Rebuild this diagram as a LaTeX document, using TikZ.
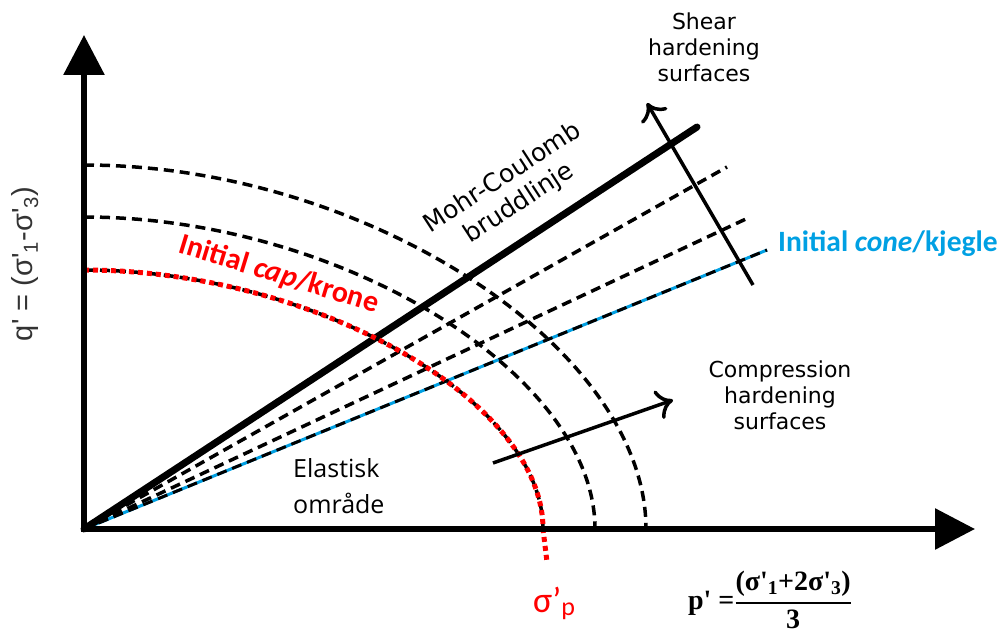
\documentclass[tikz,border=0pt]{standalone}
\usepackage{fontspec}
\usepackage{amsmath}
\usetikzlibrary{arrows.meta}

\newfontfamily\djv{DejaVu Sans}
\newfontfamily\carl{Carlito}
\newfontfamily\osans{Open Sans}
\newfontfamily\lser{Liberation Serif}
\newfontfamily\lsans{Liberation Sans}
\definecolor{coneblue}{RGB}{0,160,227}

\tikzset{
    axisline/.style={line width=6pt, line join=miter,
        {Triangle[length=40pt,width=40pt]}-{Triangle[length=40pt,width=40pt]}},
    surf/.style={line width=3.5pt, dash pattern=on 10pt off 6pt},
    capline/.style={red, line width=5pt, dash pattern=on 5pt off 4pt},
    harden/.style={line width=3.5pt, -{Computer Modern Rightarrow[length=16pt,width=30pt]}},
    lbl/.style={font=\djv\fontsize{22}{26}\selectfont, align=center, inner sep=0pt},
    boldlbl/.style={font=\carl\bfseries\fontsize{30}{32}\selectfont, inner sep=0pt},
}

\begin{document}
\begin{tikzpicture}[x=1pt,y=1pt]
\useasboundingbox (-84,-106) rectangle (922,529);

% Caps (hardening surfaces)
\foreach \a/\b in {459/259, 511/312, 562/364}
    \draw[surf] (0,\b) .. controls (0.5*\a,\b) and (\a,0.5*\b) .. (\a,0);

% Lines from origin
\coordinate (O) at (0,0);
\coordinate (mc) at (613,402);
\coordinate (d1) at (643,362);
\coordinate (d2) at (664,311);
\coordinate (cone) at (683,279);
\draw[coneblue, line width=3pt] (O) -- (cone);
\draw[surf, line width=3pt] (O) -- (cone);
\draw[surf] (O) -- (d1);
\draw[surf] (O) -- (d2);
\draw[line width=7pt, line cap=round] (O) -- (mc);

% Initial cap
\draw[capline] (0,259) .. controls (229.5,259) and (459,129.5) .. (459,0) -- (463,-33);

% Axes
\draw[axisline] (0,494) -- (O) -- (891,0);

% Hardening arrows
\coordinate (s0) at (669,244);
\coordinate (s1) at (563,426);
\draw[harden] (s0) -- (s1);
\coordinate (c0) at (409,66);
\coordinate (c1) at (589,129);
\draw[harden] (c0) -- (c1);

% Labels
\node[lbl] (shear) at (620,482) {Shear\\hardening\\surfaces};
\node[lbl] (comp) at (696,134) {Compression\\hardening\\surfaces};
\node[lbl, font=\djv\fontsize{25}{30}\selectfont, rotate=33] (mclbl) at (427,338) {Mohr-Coulomb\\bruddlinje};
\node[boldlbl, red, rotate=-17] (caplbl) at (195,254) {Initial {\itshape cap}/krone};
\node[boldlbl, font=\carl\bfseries\fontsize{29.5}{32}\selectfont, coneblue, anchor=base west] (conelbl) at (694,277) {Initial {\itshape cone}/kjegle};
\node[font=\osans\fontsize{25}{36}\selectfont, align=left, inner sep=0pt, anchor=west] (elast) at (209,43) {Elastisk\\område};
\node[red, inner sep=0pt, anchor=base west] (sigp) at (449,-83)
    {\carl\fontsize{36}{36}\selectfont σ’\raisebox{-3pt}{\fontsize{26}{26}\selectfont p}};
\node[inner sep=0pt] (plbl) at (686,-71)
    {\lser\bfseries\fontsize{28}{32}\selectfont p' =$\genfrac{}{}{2pt}{0}{\text{(σ'\textsubscript{1}+2σ'\textsubscript{3})}}{\text{3}}$};
\node[black!80, rotate=90, inner sep=0pt] (qlbl) at (-59,265)
    {\lsans\fontsize{29}{29}\selectfont q' = (σ'\textsubscript{1}-σ'\textsubscript{3})};

\end{tikzpicture}
\end{document}
